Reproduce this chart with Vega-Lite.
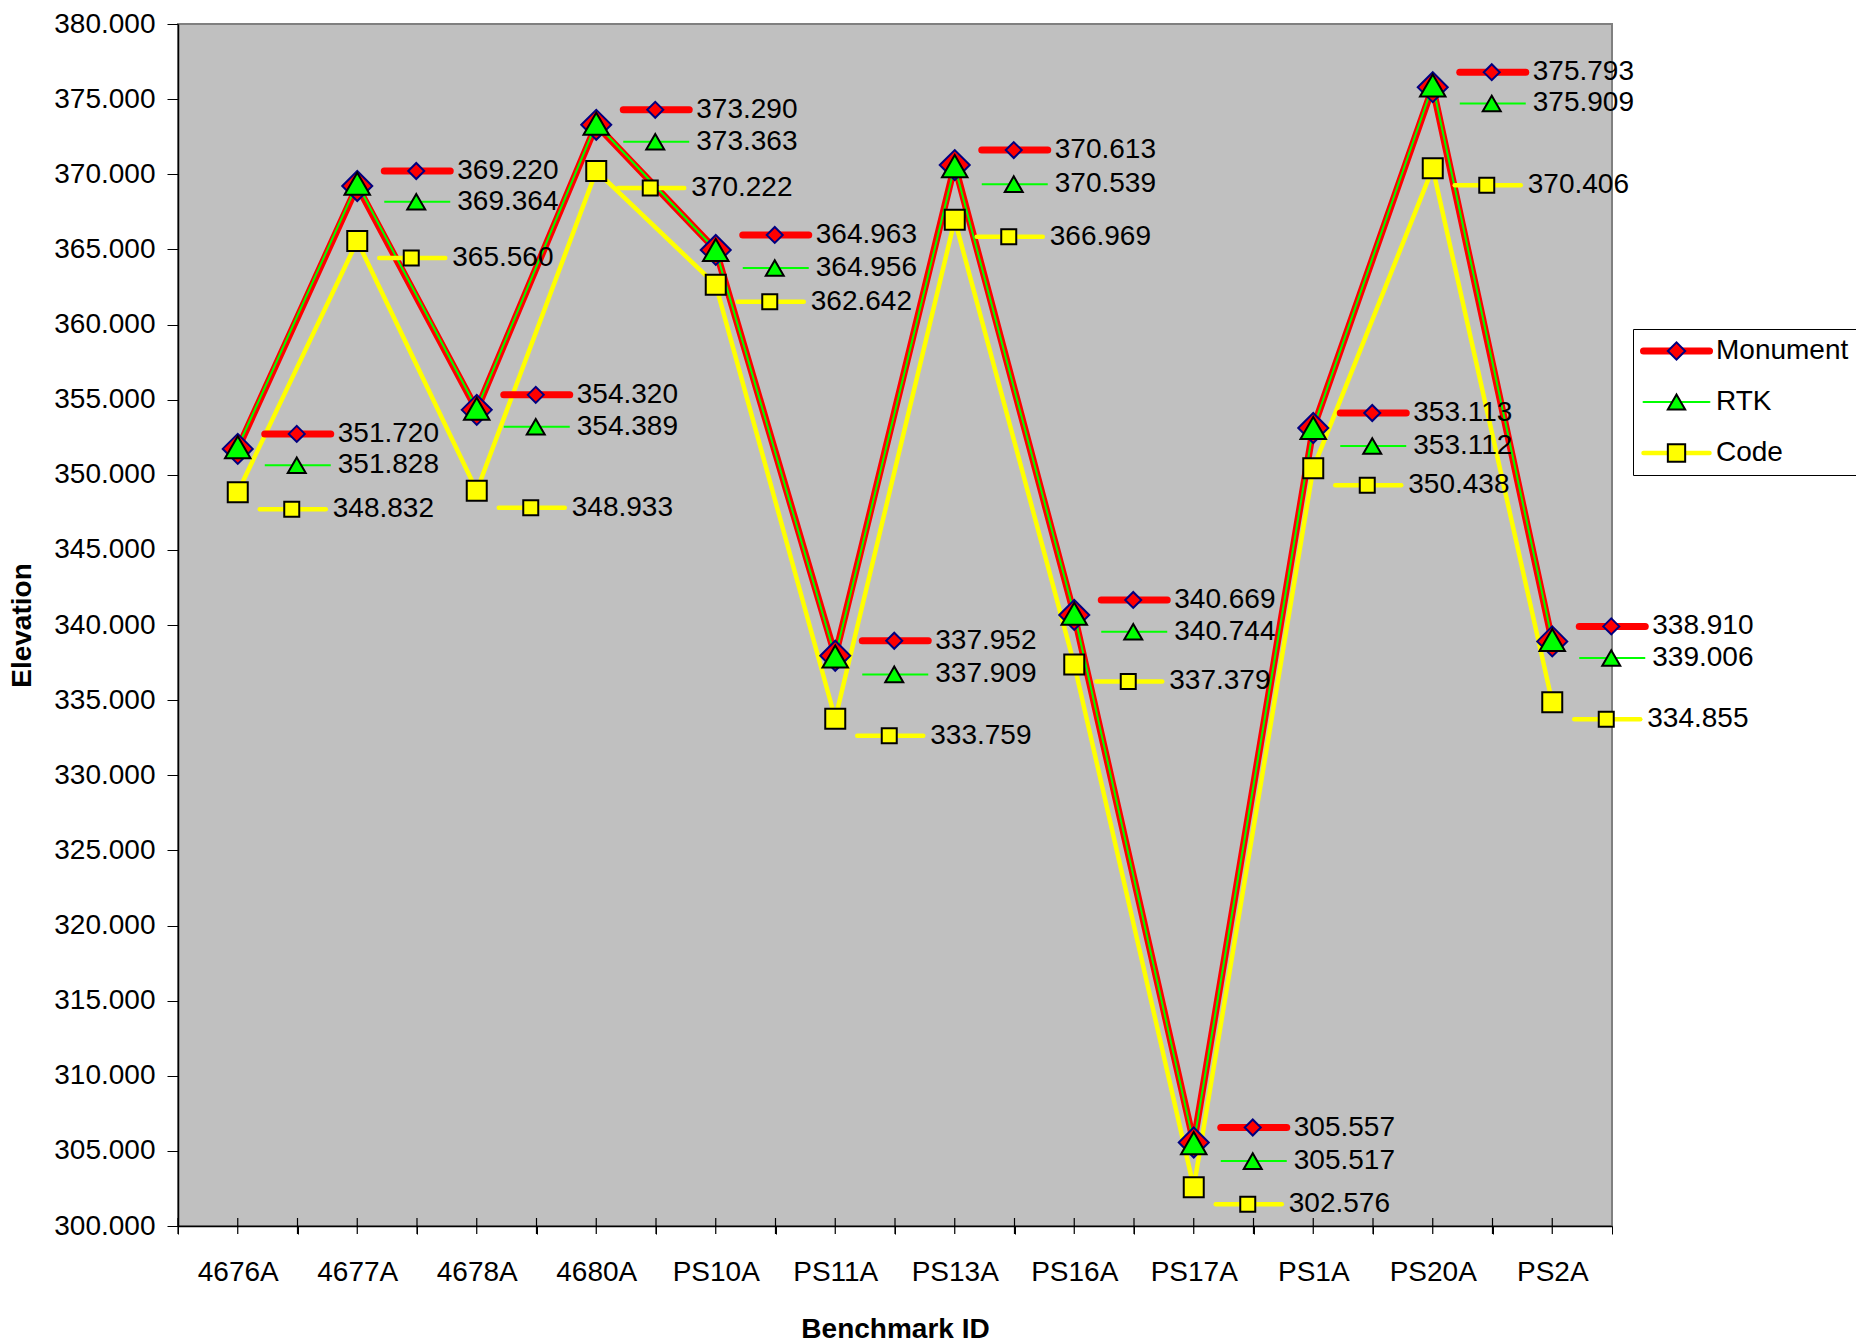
{
  "$schema": "https://vega.github.io/schema/vega-lite/v6.json",
  "width": 1434,
  "height": 1202,
  "autosize": {"type": "none"},
  "padding": {"left": 178, "top": 24, "right": 244, "bottom": 116},
  "background": "white",
  "config": {
    "font": "Liberation Sans",
    "view": {"fill": "#C0C0C0", "stroke": "#808080", "strokeWidth": 2}
  },
  "data": {
    "values": [
      {"id": "4676A", "series": "Monument", "elevation": 351.720},
      {"id": "4676A", "series": "RTK", "elevation": 351.828},
      {"id": "4676A", "series": "Code", "elevation": 348.832},
      {"id": "4677A", "series": "Monument", "elevation": 369.220},
      {"id": "4677A", "series": "RTK", "elevation": 369.364},
      {"id": "4677A", "series": "Code", "elevation": 365.560},
      {"id": "4678A", "series": "Monument", "elevation": 354.320},
      {"id": "4678A", "series": "RTK", "elevation": 354.389},
      {"id": "4678A", "series": "Code", "elevation": 348.933},
      {"id": "4680A", "series": "Monument", "elevation": 373.290},
      {"id": "4680A", "series": "RTK", "elevation": 373.363},
      {"id": "4680A", "series": "Code", "elevation": 370.222},
      {"id": "PS10A", "series": "Monument", "elevation": 364.963},
      {"id": "PS10A", "series": "RTK", "elevation": 364.956},
      {"id": "PS10A", "series": "Code", "elevation": 362.642},
      {"id": "PS11A", "series": "Monument", "elevation": 337.952},
      {"id": "PS11A", "series": "RTK", "elevation": 337.909},
      {"id": "PS11A", "series": "Code", "elevation": 333.759},
      {"id": "PS13A", "series": "Monument", "elevation": 370.613},
      {"id": "PS13A", "series": "RTK", "elevation": 370.539},
      {"id": "PS13A", "series": "Code", "elevation": 366.969},
      {"id": "PS16A", "series": "Monument", "elevation": 340.669},
      {"id": "PS16A", "series": "RTK", "elevation": 340.744},
      {"id": "PS16A", "series": "Code", "elevation": 337.379},
      {"id": "PS17A", "series": "Monument", "elevation": 305.557},
      {"id": "PS17A", "series": "RTK", "elevation": 305.517},
      {"id": "PS17A", "series": "Code", "elevation": 302.576},
      {"id": "PS1A", "series": "Monument", "elevation": 353.113},
      {"id": "PS1A", "series": "RTK", "elevation": 353.112},
      {"id": "PS1A", "series": "Code", "elevation": 350.438},
      {"id": "PS20A", "series": "Monument", "elevation": 375.793},
      {"id": "PS20A", "series": "RTK", "elevation": 375.909},
      {"id": "PS20A", "series": "Code", "elevation": 370.406},
      {"id": "PS2A", "series": "Monument", "elevation": 338.910},
      {"id": "PS2A", "series": "RTK", "elevation": 339.006},
      {"id": "PS2A", "series": "Code", "elevation": 334.855}
    ]
  },
  "encoding": {
    "x": {
      "field": "id",
      "type": "nominal",
      "bandPosition": 0.5,
      "scale": {
        "type": "band",
        "domain": ["4676A", "4677A", "4678A", "4680A", "PS10A", "PS11A", "PS13A", "PS16A", "PS17A", "PS1A", "PS20A", "PS2A"],
        "paddingInner": 0,
        "paddingOuter": 0
      },
      "axis": {
        "title": "Benchmark ID",
        "titleFontSize": 28,
        "titleFontWeight": "bold",
        "titleColor": "black",
        "titlePadding": 29,
        "labelFontSize": 28,
        "labelColor": "black",
        "labelAngle": 0,
        "labelPadding": 24,
        "tickBand": "extent",
        "tickSize": 8,
        "tickColor": "black",
        "domainColor": "black",
        "domainWidth": 1.5,
        "grid": false
      }
    },
    "y": {
      "field": "elevation",
      "type": "quantitative",
      "scale": {"domain": [300, 380], "nice": false, "zero": false},
      "axis": {
        "title": "Elevation",
        "titleFontSize": 28,
        "titleFontWeight": "bold",
        "titleColor": "black",
        "titlePadding": 17,
        "labelFontSize": 28,
        "labelColor": "black",
        "labelPadding": 12,
        "format": ".3f",
        "tickCount": 16,
        "tickSize": 11,
        "tickColor": "black",
        "domainColor": "black",
        "domainWidth": 1.5,
        "grid": false
      }
    }
  },
  "layer": [
    {
      "mark": {"type": "line", "strokeJoin": "round"},
      "encoding": {
        "color": {
          "field": "series",
          "type": "nominal",
          "sort": ["Monument", "RTK", "Code"],
          "scale": {"range": ["#FF0000", "#00FF00", "#FFFF00"]},
          "legend": {
            "orient": "none",
            "legendX": 1455,
            "legendY": 305,
            "title": null,
            "symbolType": "M-3.3,0L3.3,0",
            "symbolSize": 400,
            "symbolOffset": 21.5,
            "labelFont": "Liberation Sans",
            "labelFontSize": 28,
            "labelColor": "black",
            "labelOffset": 25.5,
            "rowPadding": 23,
            "padding": 8,
            "strokeColor": "black",
            "encode": {
              "symbols": {
                "update": {
                  "strokeWidth": {"signal": "datum.value === 'Monument' ? 7 : datum.value === 'RTK' ? 2 : 4.5"},
                  "strokeCap": {"value": "round"}
                }
              }
            }
          }
        },
        "strokeWidth": {
          "field": "series",
          "type": "nominal",
          "scale": {"type": "point", "domain": ["RTK", "Code", "Monument"], "range": [2, 7], "padding": 0},
          "legend": null
        }
      }
    },
    {
      "mark": {"type": "point", "filled": true, "opacity": 1, "strokeWidth": 2},
      "encoding": {
        "shape": {
          "field": "series",
          "type": "nominal",
          "scale": {"domain": ["Monument", "RTK", "Code"], "range": ["diamond", "triangle-up", "square"]},
          "legend": {
            "orient": "none", "legendX": 1455, "legendY": 305, "title": null,
            "symbolSize": 300, "symbolStrokeWidth": 2, "symbolOffset": 21.5,
            "labelFontSize": 28, "labelColor": "transparent", "labelOffset": 25.5,
            "rowPadding": 23, "padding": 8
          }
        },
        "fill": {
          "field": "series",
          "type": "nominal",
          "scale": {"domain": ["Monument", "RTK", "Code"], "range": ["#FF0000", "#00FF00", "#FFFF00"]},
          "legend": {
            "orient": "none", "legendX": 1455, "legendY": 305, "title": null,
            "symbolSize": 300, "symbolStrokeWidth": 2, "symbolOffset": 21.5,
            "labelFontSize": 28, "labelColor": "transparent", "labelOffset": 25.5,
            "rowPadding": 23, "padding": 8
          }
        },
        "stroke": {
          "field": "series",
          "type": "nominal",
          "scale": {"domain": ["Monument", "RTK", "Code"], "range": ["#000080", "#000000", "#000000"]},
          "legend": {
            "orient": "none", "legendX": 1455, "legendY": 305, "title": null,
            "symbolSize": 300, "symbolStrokeWidth": 2, "symbolOffset": 21.5,
            "labelFontSize": 28, "labelColor": "transparent", "labelOffset": 25.5,
            "rowPadding": 23, "padding": 8
          }
        },
        "size": {
          "field": "series",
          "type": "nominal",
          "scale": {"type": "point", "domain": ["Code", "RTK", "Monument"], "range": [400, 900], "padding": 0},
          "legend": null
        }
      }
    },
    {
      "transform": [{"filter": "datum.series === 'Monument'"}],
      "mark": {"type": "tick", "orient": "vertical", "size": 16, "thickness": 1.2, "color": "black", "opacity": 1},
      "encoding": {
        "x": {"field": "id", "type": "nominal", "bandPosition": 0.5},
        "y": {"datum": 300, "type": "quantitative"}
      }
    },
    {
      "transform": [{"filter": "datum.series === 'Monument'"}],
      "mark": {"type": "tick", "orient": "vertical", "size": 16, "thickness": 1.2, "color": "black", "opacity": 1},
      "encoding": {
        "x": {"field": "id", "type": "nominal", "bandPosition": 0},
        "y": {"datum": 300, "type": "quantitative"}
      }
    },
    {
      "transform": [{"filter": "datum.series === 'Monument'"}],
      "layer": [
        {"mark": {"type": "point", "shape": "M-1,0L1,0", "size": 4356, "filled": false, "stroke": "#FF0000", "strokeWidth": 7, "strokeCap": "round", "opacity": 1, "xOffset": 60, "yOffset": -15}},
        {"mark": {"type": "point", "shape": "diamond", "size": 256, "filled": true, "fill": "#FF0000", "stroke": "#000080", "strokeWidth": 2, "opacity": 1, "xOffset": 59, "yOffset": -15}},
        {
          "mark": {"type": "text", "align": "left", "baseline": "middle", "fontSize": 28, "color": "black", "xOffset": 100, "yOffset": -15},
          "encoding": {"text": {"field": "elevation", "type": "quantitative", "format": ".3f"}}
        }
      ]
    },
    {
      "transform": [{"filter": "datum.series === 'RTK'"}],
      "layer": [
        {"mark": {"type": "point", "shape": "M-1,0L1,0", "size": 4356, "filled": false, "stroke": "#00FF00", "strokeWidth": 2, "opacity": 1, "xOffset": 60, "yOffset": 18}},
        {"mark": {"type": "point", "shape": "triangle-up", "size": 324, "filled": true, "fill": "#00FF00", "stroke": "#000000", "strokeWidth": 2, "opacity": 1, "xOffset": 59, "yOffset": 18}},
        {
          "mark": {"type": "text", "align": "left", "baseline": "middle", "fontSize": 28, "color": "black", "xOffset": 100, "yOffset": 18},
          "encoding": {"text": {"field": "elevation", "type": "quantitative", "format": ".3f"}}
        }
      ]
    },
    {
      "transform": [{"filter": "datum.series === 'Code'"}],
      "layer": [
        {"mark": {"type": "point", "shape": "M-1,0L1,0", "size": 4356, "filled": false, "stroke": "#FFFF00", "strokeWidth": 4.5, "strokeCap": "round", "opacity": 1, "xOffset": 55, "yOffset": 17}},
        {"mark": {"type": "point", "shape": "square", "size": 225, "filled": true, "fill": "#FFFF00", "stroke": "#000000", "strokeWidth": 2, "opacity": 1, "xOffset": 54, "yOffset": 17}},
        {
          "mark": {"type": "text", "align": "left", "baseline": "middle", "fontSize": 28, "color": "black", "xOffset": 95, "yOffset": 17},
          "encoding": {"text": {"field": "elevation", "type": "quantitative", "format": ".3f"}}
        }
      ]
    }
  ]
}
